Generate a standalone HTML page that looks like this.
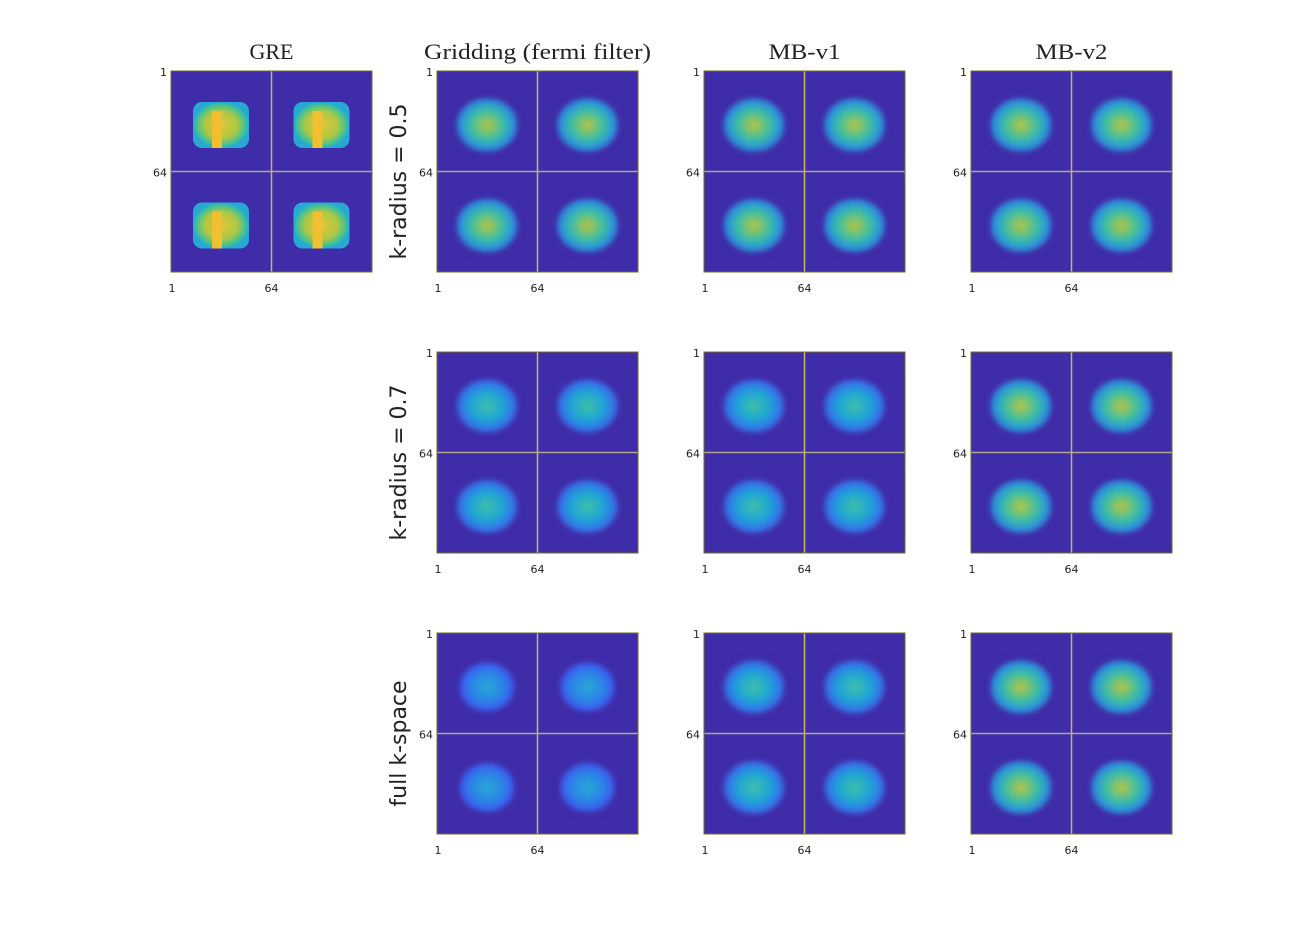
<!DOCTYPE html>
<html><head><meta charset="utf-8"><style>
body{margin:0;background:#fff;width:1296px;height:938px;overflow:hidden}
</style></head><body>
<svg id="fig" width="1296" height="938" xmlns="http://www.w3.org/2000/svg" style="font-family:'DejaVu Sans','Liberation Sans',sans-serif">
<defs>
<radialGradient id="g0"><stop offset="0" stop-color="#e6c53a"/><stop offset="0.6" stop-color="#a8c845"/><stop offset="0.9" stop-color="#38c0a0"/><stop offset="1" stop-color="#2aa8d4"/></radialGradient>
<radialGradient id="g1"><stop offset="0" stop-color="#b8c440"/><stop offset="0.5" stop-color="#3cbfa2"/><stop offset="0.85" stop-color="#2a8ee0"/><stop offset="1" stop-color="#3f2ca8"/></radialGradient>
<radialGradient id="g2"><stop offset="0" stop-color="#40c0a5"/><stop offset="0.5" stop-color="#1fa5d6"/><stop offset="0.85" stop-color="#3570ea"/><stop offset="1" stop-color="#3f2ca8"/></radialGradient>
<radialGradient id="g3"><stop offset="0" stop-color="#2aa8d4"/><stop offset="0.55" stop-color="#2c84e6"/><stop offset="0.85" stop-color="#3a5ef0"/><stop offset="1" stop-color="#3f2ca8"/></radialGradient>
<filter id="blur" x="-30%" y="-30%" width="160%" height="160%"><feGaussianBlur stdDeviation="2.5"/></filter>
</defs>
<g id="panels"></g>
</svg>
<script>
const colTitles=["GRE","Gridding (fermi filter)","MB-v1","MB-v2"];
const titleWidths=[44,227,72,72];
const rowTitles=["k-radius = 0.5","k-radius = 0.7","full k-space"];
// brightness level (0 bright .. 3 dim) per panel [row][col], null = no panel
const levels=[[0,1,1,1],[null,2,2,1],[null,3,2,1]];
const ticks=["1","64"];
const colX=[171,437,704,971], rowY=[71,352,633], S=201;
const NS="http://www.w3.org/2000/svg";
const g=document.getElementById('panels');
function el(t,a,p){const e=document.createElementNS(NS,t);for(const k in a)e.setAttribute(k,a[k]);(p||g).appendChild(e);return e;}
colTitles.forEach((t,c)=>{const e=el('text',{x:colX[c]+S/2,y:59,'text-anchor':'middle','font-size':22,textLength:titleWidths[c],lengthAdjust:'spacingAndGlyphs',style:"font-family:'Liberation Serif',serif",fill:'#222'});e.textContent=t;

});
rowTitles.forEach((t,r)=>{const cy=rowY[r]+S/2+10;const e=el('text',{x:0,y:0,transform:`translate(406,${cy}) rotate(-90)`,'text-anchor':'middle','font-size':22,fill:'#222'});e.textContent=t;

});
levels.forEach((row,r)=>row.forEach((lv,c)=>{
 if(lv===null)return;
 const x=colX[c],y=rowY[r];
 const grp=el('g',{});
 
 
 el('rect',{x:x,y:y,width:S,height:S,fill:'#3e2ca9'},grp);
 for(let qy=0;qy<2;qy++)for(let qx=0;qx<2;qx++){
  const bx=x+qx*100.5+50, by=y+qy*100.5+54;
  if(lv==0){
   el('rect',{x:bx-28,y:by-23,width:56,height:46,rx:9,fill:'url(#g0)'},grp);
   el('rect',{x:bx-9,y:by-14,width:10,height:37,fill:'#f0c030'},grp);
  } else {
   const w=lv==3?58:64,h=lv==3?52:56;
   el('rect',{x:bx-w/2,y:by-h/2,width:w,height:h,rx:16,fill:`url(#g${lv})`,filter:'url(#blur)'},grp);
  }
 }
 el('line',{x1:x+S/2,y1:y,x2:x+S/2,y2:y+S,stroke:'#c8b860','stroke-width':1.5},grp);
 el('line',{x1:x,y1:y+S/2,x2:x+S,y2:y+S/2,stroke:'#b0a890','stroke-width':1.5},grp);
 el('rect',{x:x,y:y,width:S,height:S,fill:'none',stroke:'#7a6a20','stroke-width':1},grp);
 [[x+1,y+S+20,'middle',ticks[0]],[x+S/2,y+S+20,'middle',ticks[1]],[x-4,y+5,'end',ticks[0]],[x-4,y+S/2+5,'end',ticks[1]]].forEach((t,i)=>{
  const e=el('text',{x:t[0],y:t[1],'text-anchor':t[2],'font-size':11,fill:'#222'},grp);e.textContent=t[3];
  
  
 });
}));
</script>
</body></html>
